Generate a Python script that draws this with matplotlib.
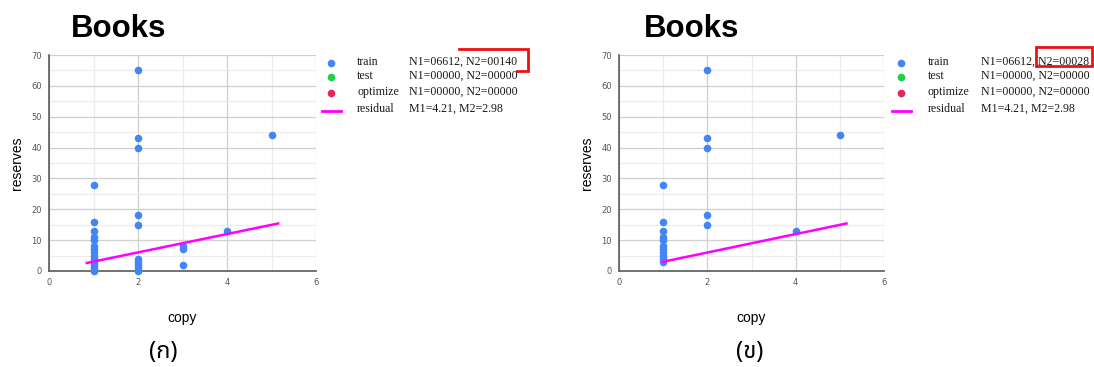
import matplotlib
matplotlib.use("Agg")
import matplotlib.pyplot as plt
from matplotlib.lines import Line2D
from matplotlib.patches import Rectangle

# ---- data ----
left_x = [1]*14 + [2]*10 + [3]*3 + [4] + [5]
left_y = [0, 1, 2, 3, 4, 5, 6, 7, 8, 10, 11, 13, 16, 28,
          0, 1, 2, 3, 4, 15, 18, 40, 43, 65,
          2, 7, 8,
          13,
          44]
left_resid_x = [0.85, 5.15]
left_resid_y = [2.6, 15.4]

right_x = [1]*11 + [2]*5 + [4] + [5]
right_y = [3, 4, 5, 6, 7, 8, 10, 11, 13, 16, 28,
           15, 18, 40, 43, 65,
           13,
           44]
right_resid_x = [1.0, 5.15]
right_resid_y = [3.0, 15.4]

legend_names = ["train", "test", "optimize", "residual"]
left_stats = ["N1=06612, N2=00140", "N1=00000, N2=00000",
              "N1=00000, N2=00000", "M1=4.21, M2=2.98"]
right_stats = ["N1=06612, N2=00028", "N1=00000, N2=00000",
               "N1=00000, N2=00000", "M1=4.21, M2=2.98"]
titles = ["Books", "Books"]
captions = ["(ก)", "(ข)"]
x_ticks = [0, 2, 4, 6]
y_ticks = [0, 10, 20, 30, 40, 50, 60, 70]

BLUE = "#4285f4"
GREEN = "#1fcf4a"
RED = "#e8245a"
MAG = "#ff00ff"

W, H = 1094, 367
fig = plt.figure(figsize=(W/100, H/100), dpi=100)

def fx(px):
    return px / W

def fy(py):
    return 1 - py / H

serif = ["Liberation Serif", "DejaVu Serif"]
sans = ["Liberation Sans", "DejaVu Sans"]
thai = ["Noto Sans Thai", "Noto Serif Thai", "Loma", "Garuda", "Tlwg Typo",
        "Norasi", "Waree", "DejaVu Sans"]

def panel(x0, x1, xs, ys, rx, ry, title, title_x, caption, cap_x, leg_x,
          stats, off_lab, off_stat):
    ax = fig.add_axes([fx(x0), fy(271), fx(x1 - x0), fy(55) - fy(271)])
    ax.set_xlim(0, 6)
    ax.set_ylim(0, 70)
    ax.set_xticks(x_ticks)
    ax.set_yticks(y_ticks)
    ax.set_xticks([1, 3, 5], minor=True)
    ax.set_yticks([5, 15, 25, 35, 45, 55, 65], minor=True)
    ax.grid(which="major", color="#cfcfcf", lw=0.9)
    ax.grid(which="minor", color="#ececec", lw=0.9)
    ax.set_axisbelow(True)
    for s in ["top", "right"]:
        ax.spines[s].set_visible(False)
    for s in ["left", "bottom"]:
        ax.spines[s].set_color("#5a5a5a")
        ax.spines[s].set_linewidth(1.2)
    ax.tick_params(which="both", length=0, labelsize=6, colors="#555555", pad=5)
    ax.tick_params(axis="y", pad=5)
    ax.scatter(xs, ys, s=30, color=BLUE, zorder=3, clip_on=False, linewidths=0)
    ax.plot(rx, ry, color=MAG, lw=1.8, zorder=4, clip_on=False)
    ax.set_xlabel("copy", fontsize=10, family=sans, labelpad=17)
    ax.set_ylabel("reserves", fontsize=10, family=sans, labelpad=5)

    fig.text(fx(title_x), fy(29), title, fontsize=22.5, fontweight="bold",
             family=sans, ha="center", va="center")
    fig.text(fx(cap_x), fy(352), caption, fontsize=17, family=thai,
             ha="center", va="center")

    # legend
    rows = [62, 76, 92, 109]
    cols = [BLUE, GREEN, RED]
    for i in range(3):
        fig.add_artist(Line2D([fx(leg_x + 9)], [fy(rows[i] + 1)], marker="o",
                              ms=5.5, color=cols[i], mec="none", ls="none"))
    fig.add_artist(Line2D([fx(leg_x), fx(leg_x + 19)], [fy(rows[3] + 2)] * 2,
                          color=MAG, lw=2))
    for i in range(4):
        fig.text(fx(leg_x + off_lab), fy(rows[i]), legend_names[i], fontsize=8.6,
                 family=serif, ha="left", va="center", color="#1a1a1a")
        fig.text(fx(leg_x + off_stat), fy(rows[i]), stats[i], fontsize=8.6,
                 family=serif, ha="left", va="center", color="#1a1a1a")
    return ax

panel(49, 316, left_x, left_y, left_resid_x, left_resid_y,
      titles[0], 119, captions[0], 163, 322, left_stats, 35, 87)
panel(619, 884, right_x, right_y, right_resid_x, right_resid_y,
      titles[1], 692, captions[1], 750, 892, right_stats, 36, 89)

# red highlight marks
fig.add_artist(Line2D([fx(459), fx(528), fx(528), fx(517)],
                      [fy(49), fy(49), fy(71), fy(71)],
                      color="#ee1111", lw=2, solid_joinstyle="miter"))
fig.add_artist(Rectangle((fx(1036), fy(66)), fx(1092 - 1036), fy(47) - fy(66),
                         fill=False, ec="#ee1111", lw=2))

fig.savefig("out.png", dpi=100)
